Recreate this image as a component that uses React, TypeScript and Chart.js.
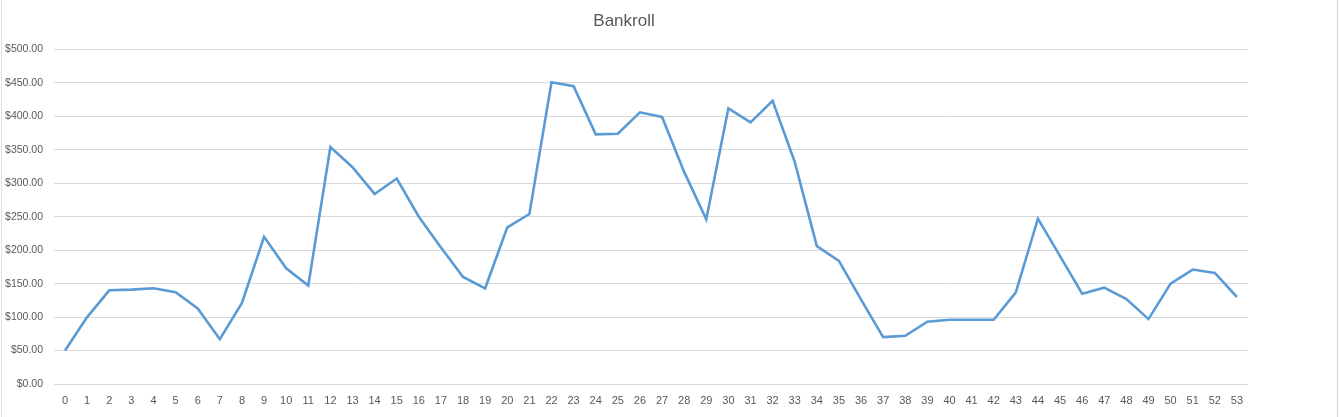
import React, { useEffect, useRef } from "react";
import { Chart, registerables } from "chart.js";

Chart.register(...registerables);

const categories: string[] = Array.from({ length: 54 }, (_, i) => String(i));
const bankroll: number[] = [
  50, 100, 140, 141, 143, 137, 113, 67, 121, 220,
  173, 147, 354, 324, 284, 307, 250, 204, 160, 143,
  234, 254, 451, 445, 373, 374, 406, 399, 317, 246,
  412, 391, 423, 332, 206, 184, 126, 70, 72, 93,
  96, 96, 96, 137, 247, 191, 135, 144, 127, 97,
  150, 171, 166, 130,
];
const yTicks: number[] = [0, 50, 100, 150, 200, 250, 300, 350, 400, 450, 500];

const FONT = "'Liberation Sans', Arial, sans-serif";
const TEXT = "#595959";

export default function App() {
  const ref = useRef<HTMLCanvasElement | null>(null);

  useEffect(() => {
    document.body.style.margin = "0";
    const canvas = ref.current;
    if (!canvas) return;
    const chart = new Chart(canvas, {
      type: "line",
      data: {
        labels: categories,
        datasets: [
          {
            label: "Bankroll",
            data: bankroll,
            borderColor: "#5B9BD5",
            backgroundColor: "#5B9BD5",
            borderWidth: 2.6,
            pointRadius: 0,
            tension: 0,
            fill: false,
          },
        ],
      },
      options: {
        responsive: false,
        animation: false,
        maintainAspectRatio: false,
        layout: { padding: { top: 0, right: 91, bottom: 0, left: 0 } },
        plugins: {
          legend: { display: false },
          tooltip: { enabled: false },
          title: {
            display: true,
            text: "Bankroll",
            color: TEXT,
            font: { family: FONT, size: 17, weight: "normal" },
            padding: { top: 11, bottom: 18 },
          },
        },
        scales: {
          x: {
            offset: true,
            grid: { display: false, drawTicks: false },
            border: { display: false },
            ticks: {
              color: TEXT,
              font: { family: FONT, size: 11 },
              padding: 10,
              maxRotation: 0,
              autoSkip: false,
            },
            afterFit: (s: any) => {
              s.height = 33;
            },
          },
          y: {
            min: 0,
            max: 500,
            afterBuildTicks: (s: any) => {
              s.ticks = yTicks.map((v) => ({ value: v }));
            },
            grid: { color: "#d9d9d9", lineWidth: 1, drawTicks: false },
            border: { display: false },
            ticks: {
              color: TEXT,
              font: { family: FONT, size: 10.5 },
              padding: 11,
              callback: (v: any) => "$" + Number(v).toFixed(2),
            },
            afterFit: (s: any) => {
              s.width = 54;
            },
          },
        },
      },
    });
    return () => chart.destroy();
  }, []);

  return (
    <div style={{ position: "relative", width: 1339, height: 417, background: "#fff" }}>
      <canvas ref={ref} width={1339} height={417} style={{ display: "block" }} />
      <div style={{ position: "absolute", left: 1, top: 0, width: 1, height: 417, background: "#e3e3e3" }} />
      <div style={{ position: "absolute", left: 1337, top: 0, width: 1, height: 417, background: "#d4d4d4" }} />
    </div>
  );
}
